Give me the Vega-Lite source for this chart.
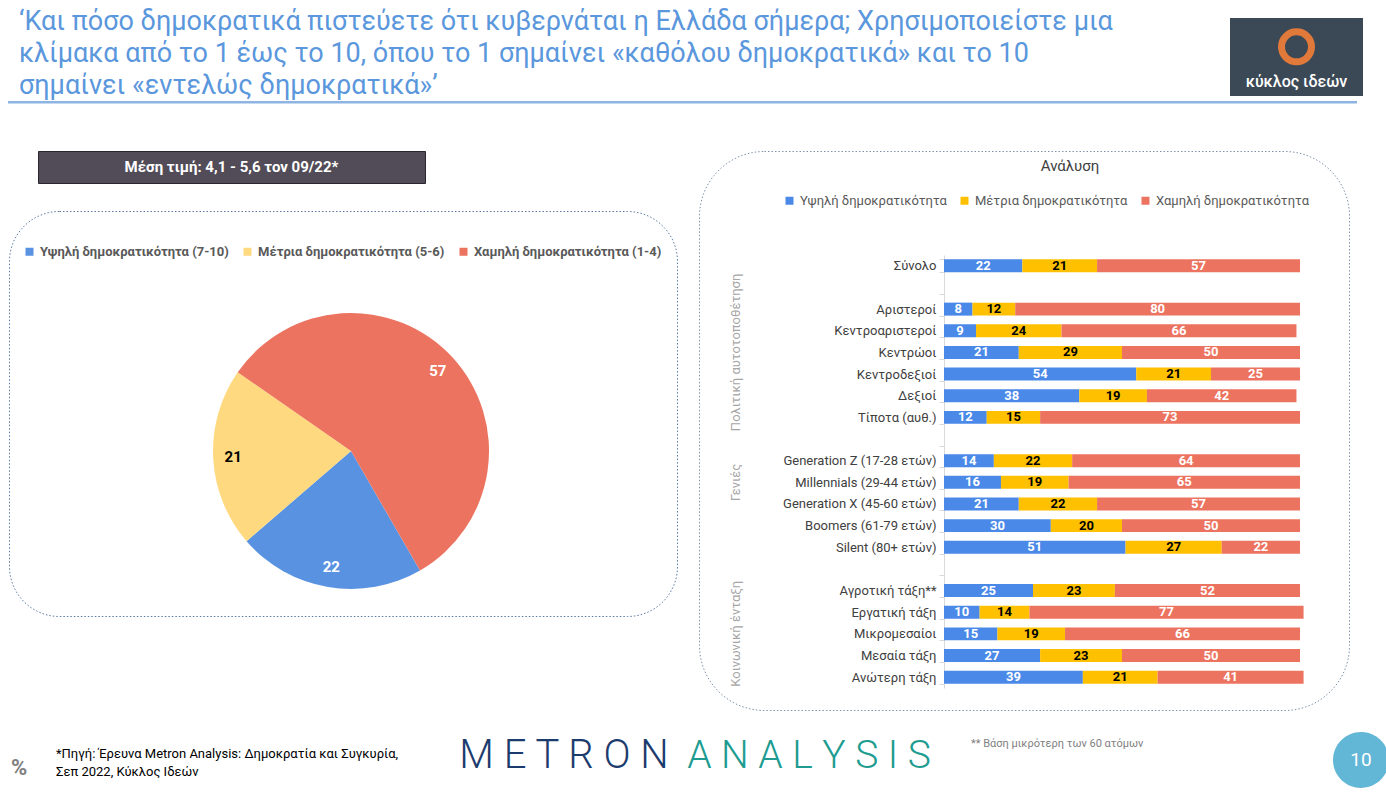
{
  "$schema": "https://vega.github.io/schema/vega-lite/v6.json",
  "background": "white",
  "padding": {"left": 8, "top": 8, "right": 0, "bottom": 0},
  "config": {
    "font": "Roboto",
    "view": {"stroke": null},
    "title": {"font": "Roboto", "fontWeight": "normal"},
    "legend": {"labelFont": "Roboto", "padding": 0, "labelLimit": 0},
    "axis": {"labelFont": "Roboto"},
    "text": {"font": "Roboto"}
  },
  "resolve": {"scale": {"color": "independent"}, "legend": {"color": "independent"}},
  "spacing": 40,
  "vconcat": [
    {
      "spacing": 2,
      "vconcat": [
        {
          "spacing": 0,
          "hconcat": [
            {
              "width": 1221,
              "height": 78,
              "title": {
                "text": [
                  "‘Και πόσο δημοκρατικά πιστεύετε ότι κυβερνάται η Ελλάδα σήμερα; Χρησιμοποιείστε μια",
                  "κλίμακα από το 1 έως το 10, όπου το 1 σημαίνει «καθόλου δημοκρατικά» και το 10",
                  "σημαίνει «εντελώς δημοκρατικά»’"
                ],
                "anchor": "start",
                "fontSize": 27,
                "lineHeight": 32,
                "color": "#5B97DC",
                "dx": 10,
                "offset": -82
              },
              "data": {"values": []},
              "mark": "text"
            },
            {
              "width": 133,
              "height": 78,
              "view": {"fill": "#3B4956", "stroke": null},
              "data": {"values": [{"name": "κύκλος ιδεών"}]},
              "layer": [
                {
                  "mark": {"type": "point", "shape": "circle", "filled": false, "stroke": "#E0793A", "strokeWidth": 7, "size": 900, "opacity": 1},
                  "encoding": {"y": {"datum": 0.63, "type": "quantitative", "scale": {"domain": [0, 1]}, "axis": null}}
                },
                {
                  "mark": {"type": "text", "color": "white", "fontSize": 16, "fontWeight": 500},
                  "encoding": {
                    "text": {"field": "name"},
                    "y": {"datum": 0.18, "type": "quantitative", "scale": {"domain": [0, 1]}, "axis": null}
                  }
                }
              ]
            }
          ]
        },
        {
          "width": 1347,
          "height": 0.5,
          "view": {"stroke": "#8EB4E3", "strokeWidth": 2},
          "data": {"values": []},
          "mark": "text"
        }
      ]
    },
    {
      "spacing": 21,
      "resolve": {"scale": {"color": "independent"}, "legend": {"color": "independent"}},
      "vconcat": [
        {
          "spacing": 20,
          "resolve": {"scale": {"color": "independent"}, "legend": {"color": "independent"}},
          "hconcat": [
            {
              "spacing": 26,
              "resolve": {"scale": {"color": "independent"}, "legend": {"color": "independent"}},
              "vconcat": [
                {
                  "spacing": 20,
                  "hconcat": [
                    {"width": 8, "height": 32, "data": {"values": []}, "mark": "text"},
                    {
                      "width": 387,
                      "height": 32,
                      "view": {"fill": "#524C58", "stroke": "#2A262E", "strokeWidth": 1},
                      "data": {"values": [{"t": "Μέση τιμή: 4,1 - 5,6 τον 09/22*"}]},
                      "mark": {"type": "text", "color": "white", "fontWeight": "bold", "fontSize": 15},
                      "encoding": {"text": {"field": "t"}}
                    }
                  ]
                },
                {
                  "width": 668,
                  "height": 405,
                  "view": {"fill": "white", "stroke": "#5B7BA6", "strokeDash": [1.5, 2], "strokeWidth": 1, "cornerRadius": 50},
                  "data": {
                    "values": [
                      {"pieLevel": "Υψηλή δημοκρατικότητα (7-10)", "ord": 1, "pct": 22},
                      {"pieLevel": "Μέτρια δημοκρατικότητα (5-6)", "ord": 2, "pct": 21},
                      {"pieLevel": "Χαμηλή δημοκρατικότητα (1-4)", "ord": 3, "pct": 57}
                    ]
                  },
                  "encoding": {
                    "theta": {"field": "pct", "type": "quantitative", "stack": true, "scale": {"range": [2.618, 8.901]}},
                    "order": {"field": "ord", "type": "quantitative"},
                    "x": {"datum": 0.512, "type": "quantitative", "scale": {"domain": [0, 1]}, "axis": null},
                    "y": {"datum": 0.4074, "type": "quantitative", "scale": {"domain": [0, 1]}, "axis": null}
                  },
                  "layer": [
                    {
                      "mark": {"type": "arc", "outerRadius": 138},
                      "encoding": {
                        "color": {
                          "field": "pieLevel",
                          "type": "nominal",
                          "scale": {
                            "domain": ["Υψηλή δημοκρατικότητα (7-10)", "Μέτρια δημοκρατικότητα (5-6)", "Χαμηλή δημοκρατικότητα (1-4)"],
                            "range": ["#5A92E2", "#FFD97F", "#EC735F"]
                          },
                          "legend": {
                            "orient": "none",
                            "legendX": 14,
                            "legendY": 34,
                            "direction": "horizontal",
                            "title": null,
                            "symbolType": "square",
                            "symbolSize": 64,
                            "labelFontSize": 13,
                            "labelFontWeight": "bold",
                            "labelColor": "#595959",
                            "labelLimit": 0,
                            "columnPadding": 12,
                            "labelOffset": 4
                          }
                        }
                      }
                    },
                    {
                      "mark": {"type": "text", "radius": 118, "fontWeight": "bold", "fontSize": 15},
                      "encoding": {
                        "text": {"field": "pct", "type": "quantitative"},
                        "color": {"condition": {"test": "datum.ord == 2", "value": "#000000"}, "value": "#FFFFFF"}
                      }
                    }
                  ]
                }
              ]
            },
            {
              "width": 650,
              "height": 559,
              "view": {"fill": "white", "stroke": "#7F93AD", "strokeDash": [1.5, 2], "strokeWidth": 1, "cornerRadius": 65},
              "title": {"text": "Ανάλυση", "fontSize": 15, "color": "#404040", "offset": -29, "dx": 46, "anchor": "middle"},
              "layer": [
                {
                  "data": {
                    "values": [
                      {"cat": "Σύνολο", "high": 22, "mid": 21, "low": 57},
                      {"cat": "Αριστεροί", "high": 8, "mid": 12, "low": 80},
                      {"cat": "Κεντροαριστεροί", "high": 9, "mid": 24, "low": 66},
                      {"cat": "Κεντρώοι", "high": 21, "mid": 29, "low": 50},
                      {"cat": "Κεντροδεξιοί", "high": 54, "mid": 21, "low": 25},
                      {"cat": "Δεξιοί", "high": 38, "mid": 19, "low": 42},
                      {"cat": "Τίποτα (αυθ.)", "high": 12, "mid": 15, "low": 73},
                      {"cat": "Generation Z  (17-28 ετών)", "high": 14, "mid": 22, "low": 64},
                      {"cat": "Millennials (29-44 ετών)", "high": 16, "mid": 19, "low": 65},
                      {"cat": "Generation X  (45-60 ετών)", "high": 21, "mid": 22, "low": 57},
                      {"cat": "Boomers (61-79 ετών)", "high": 30, "mid": 20, "low": 50},
                      {"cat": "Silent  (80+ ετών)", "high": 51, "mid": 27, "low": 22},
                      {"cat": "Αγροτική τάξη**", "high": 25, "mid": 23, "low": 52},
                      {"cat": "Εργατική τάξη", "high": 10, "mid": 14, "low": 77},
                      {"cat": "Μικρομεσαίοι", "high": 15, "mid": 19, "low": 66},
                      {"cat": "Μεσαία τάξη", "high": 27, "mid": 23, "low": 50},
                      {"cat": "Ανώτερη τάξη", "high": 39, "mid": 21, "low": 41}
                    ]
                  },
                  "transform": [
                    {"fold": ["high", "mid", "low"], "as": ["key", "pct"]},
                    {
                      "lookup": "key",
                      "from": {
                        "data": {
                          "values": [
                            {"key": "high", "level": "Υψηλή δημοκρατικότητα", "ord": 1},
                            {"key": "mid", "level": "Μέτρια δημοκρατικότητα", "ord": 2},
                            {"key": "low", "level": "Χαμηλή δημοκρατικότητα", "ord": 3}
                          ]
                        },
                        "key": "key",
                        "fields": ["level", "ord"]
                      }
                    }
                  ],
                  "encoding": {
                    "y": {
                      "field": "cat",
                      "type": "nominal",
                      "scale": {
                        "domain": ["Σύνολο", " ", "Αριστεροί", "Κεντροαριστεροί", "Κεντρώοι", "Κεντροδεξιοί", "Δεξιοί", "Τίποτα (αυθ.)", "  ", "Generation Z  (17-28 ετών)", "Millennials (29-44 ετών)", "Generation X  (45-60 ετών)", "Boomers (61-79 ετών)", "Silent  (80+ ετών)", "   ", "Αγροτική τάξη**", "Εργατική τάξη", "Μικρομεσαίοι", "Μεσαία τάξη", "Ανώτερη τάξη"],
                        "range": [104, 537],
                        "paddingInner": 0.4,
                        "paddingOuter": 0.2
                      },
                      "axis": {
                        "title": null,
                        "offset": -245,
                        "domainColor": "#D9D9D9",
                        "tickColor": "#D9D9D9",
                        "tickBand": "extent",
                        "tickSize": 5,
                        "labelFontSize": 13,
                        "labelColor": "#404040",
                        "labelPadding": 3,
                        "labelLimit": 300,
                        "grid": false
                      }
                    },
                    "order": {"field": "ord", "type": "quantitative"}
                  },
                  "layer": [
                    {
                      "mark": {"type": "bar"},
                      "encoding": {
                        "x": {"field": "pct", "type": "quantitative", "stack": "zero", "scale": {"domain": [-68.82, 113.76], "nice": false, "zero": false}, "axis": null},
                        "color": {
                          "field": "level",
                          "type": "nominal",
                          "scale": {
                            "domain": ["Υψηλή δημοκρατικότητα", "Μέτρια δημοκρατικότητα", "Χαμηλή δημοκρατικότητα"],
                            "range": ["#4A89E8", "#FFC000", "#EC735F"]
                          },
                          "legend": {
                            "orient": "none",
                            "legendX": 84,
                            "legendY": 43,
                            "direction": "horizontal",
                            "title": null,
                            "symbolType": "square",
                            "symbolSize": 64,
                            "labelFontSize": 13,
                            "labelColor": "#595959",
                            "labelLimit": 0,
                            "columnPadding": 11,
                            "labelOffset": 4
                          }
                        }
                      }
                    },
                    {
                      "mark": {"type": "text", "fontWeight": "bold", "fontSize": 13},
                      "encoding": {
                        "x": {"field": "pct", "type": "quantitative", "stack": "zero", "bandPosition": 0.5},
                        "detail": {"field": "level"},
                        "text": {"field": "pct", "type": "quantitative"},
                        "color": {"condition": {"test": "datum.ord == 2", "value": "#000000"}, "value": "#FFFFFF"}
                      }
                    }
                  ]
                },
                {
                  "data": {
                    "values": [
                      {"g": "Πολιτική αυτοτοποθέτηση", "at": "Κεντρώοι"},
                      {"g": "Γενιές", "at": "Millennials (29-44 ετών)"},
                      {"g": "Κοινωνική ένταξη", "at": "Μικρομεσαίοι"}
                    ]
                  },
                  "mark": {"type": "text", "angle": 270, "fontSize": 13, "color": "#A6A6A6"},
                  "encoding": {
                    "y": {"field": "at", "type": "nominal"},
                    "x": {"datum": -58.4, "type": "quantitative"},
                    "text": {"field": "g"}
                  }
                }
              ]
            }
          ]
        },
        {
          "spacing": 0,
          "hconcat": [
            {
              "width": 20, "height": 56,
              "title": {"text": "%", "anchor": "middle", "fontSize": 22, "fontWeight": "bold", "color": "#808080", "offset": -48},
              "data": {"values": []}, "mark": "text"
            },
            {
              "width": 412, "height": 56,
              "title": {"text": ["*Πηγή: Έρευνα Metron Analysis: Δημοκρατία και Συγκυρία,", "Σεπ 2022, Κύκλος Ιδεών"], "anchor": "start", "dx": 27, "fontSize": 13, "lineHeight": 18, "color": "#000000", "offset": -47},
              "data": {"values": []}, "mark": "text"
            },
            {
              "width": 246, "height": 56,
              "title": {"text": "M E T R O N", "anchor": "middle", "fontSize": 40, "fontWeight": 300, "color": "#1D3C6E", "offset": -44},
              "data": {"values": []}, "mark": "text"
            },
            {
              "width": 238, "height": 56,
              "title": {"text": "A N A L Y S I S", "anchor": "middle", "fontSize": 39, "fontWeight": 300, "color": "#1E9C91", "offset": -44},
              "data": {"values": []}, "mark": "text"
            },
            {
              "width": 402, "height": 56,
              "title": {"text": "**  Βάση μικρότερη των 60 ατόμων", "anchor": "start", "dx": 40, "fontSize": 11, "color": "#7F7F7F", "offset": -17},
              "data": {"values": []}, "mark": "text"
            },
            {
              "width": 56, "height": 56,
              "view": {"fill": "#62B6D6", "cornerRadius": 28},
              "data": {"values": [{"page": "10"}]},
              "mark": {"type": "text", "color": "white", "fontSize": 19},
              "encoding": {"text": {"field": "page"}}
            }
          ]
        }
      ]
    }
  ]
}
